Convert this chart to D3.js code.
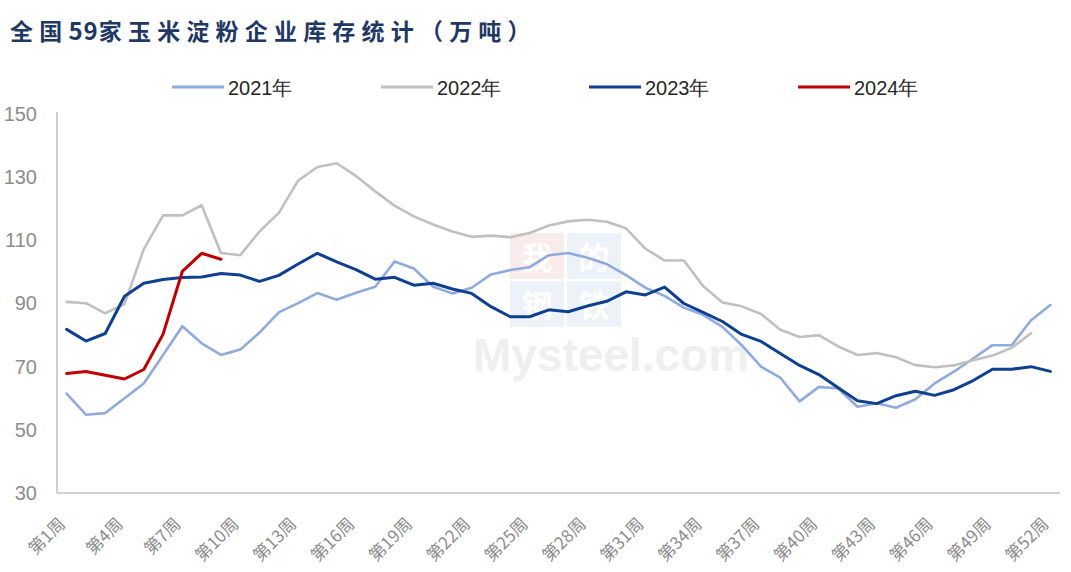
<!DOCTYPE html>
<html><head><meta charset="utf-8">
<script src="https://cdn.jsdelivr.net/npm/d3@7"></script>
<style>
html,body{margin:0;padding:0;background:#fff;}
svg{display:block;}
</style></head>
<body>
<svg id="chart" width="1071" height="572"></svg>
<script>
const weeks = d3.range(1, 53).map(i => "第" + i + "周");
const yTicks = [30, 50, 70, 90, 110, 130, 150];
const seriesNames = ["2021年", "2022年", "2023年", "2024年"];
const v2021 = [61.5,54.8,55.3,60,64.7,73.7,82.8,77.4,73.7,75.4,80.8,87.2,90.1,93.3,91.2,93.4,95.3,103.3,101.1,95.3,93.2,95,99.2,100.6,101.5,105.3,106,104.5,102.5,99,95,92.4,88.7,86.4,82.6,76.8,70,66.5,59,63.6,63.1,57.3,58.4,57,59.7,64.7,68.4,72.6,76.8,76.8,84.7,89.5];
const v2022 = [90.5,90.1,86.9,89.8,107.2,117.9,117.9,121.1,106,105.3,112.8,118.7,128.9,133.2,134.4,130.4,125.5,121,117.6,115,112.8,111.1,111.5,111,112.3,114.7,116,116.5,115.9,113.8,107.4,103.6,103.6,95.5,90.3,89.1,86.7,81.7,79.4,80,76.4,73.7,74.3,73,70.5,69.8,70.4,72,73.5,76,80.6];
const v2023 = [81.8,78.1,80.5,92.3,96.4,97.6,98.2,98.4,99.5,99,97,98.9,102.5,105.9,103.2,100.7,97.7,98.3,95.8,96.4,94.6,93.2,89,85.8,85.8,88,87.4,89.2,90.7,93.7,92.7,95.2,90,87.2,84.3,80.2,78,74.2,70.4,67.5,63.3,59.2,58.3,60.8,62.2,60.9,62.7,65.6,69.2,69.2,70,68.5];
const v2024 = [67.8,68.5,67.3,66.1,69.1,80.3,100.2,105.9,104];
const colors = ["#8FAADC", "#C0C0C0", "#0F3F8F", "#C00000"];
const widths = [2.6, 2.6, 3, 3];

const svg = d3.select("#chart");
const L = 57, R = 1060, T = 114, B = 493;
const x = d3.scalePoint().domain(weeks).range([L, R]).padding(0.5);
const y = d3.scaleLinear().domain([30, 150]).range([B, T]);

// title
const title = svg.append("text").attr("x", 10).attr("y", 40)
  .attr("font-family", "'Noto Sans CJK SC', sans-serif").attr("font-weight", "bold")
  .attr("font-size", 23).attr("fill", "#1F3864");
title.append("tspan").attr("letter-spacing", 6.2).text("全国");
title.append("tspan").attr("letter-spacing", 1).attr("font-size", 24).text("59");
title.append("tspan").attr("letter-spacing", 6.2).text("家玉米淀粉企业库存统计（万吨）");

// watermark
const wm = svg.append("g").attr("opacity", 0.5);
const wmCells = [["我", 510, 233, "#f7d9d9"], ["的", 567, 233, "#dde6f3"], ["钢", 510, 281, "#dde6f3"], ["铁", 567, 281, "#dde6f3"]];
wmCells.forEach(c => {
  wm.append("rect").attr("x", c[1]).attr("y", c[2]).attr("width", 54).attr("height", 46).attr("fill", c[3]);
  wm.append("text").attr("x", c[1] + 27).attr("y", c[2] + 36).attr("text-anchor", "middle")
    .attr("font-family", "'Noto Sans CJK SC', sans-serif").attr("font-weight", "bold")
    .attr("font-size", 31).attr("fill", "#ffffff").text(c[0]);
});
svg.append("text").attr("x", 473).attr("y", 371)
  .attr("font-family", "'Liberation Sans', Arial, sans-serif").attr("font-weight", "bold")
  .attr("font-size", 46).attr("fill", "#efefef").text("Mysteel.com");

// axes lines
svg.append("line").attr("x1", L).attr("x2", L).attr("y1", T - 2).attr("y2", B)
  .attr("stroke", "#BFBFBF").attr("stroke-width", 1.5);
svg.append("line").attr("x1", L).attr("x2", R).attr("y1", B).attr("y2", B)
  .attr("stroke", "#BFBFBF").attr("stroke-width", 1.5);

// y axis
const yAxis = svg.append("g").attr("transform", `translate(${L},0)`)
  .call(d3.axisLeft(y).tickValues(yTicks).tickSize(0).tickPadding(20));
yAxis.select(".domain").remove();
yAxis.selectAll("text").attr("font-family", "'Liberation Sans', Arial, sans-serif")
  .attr("font-size", 20).attr("fill", "#8c8c8c");

// x axis
const xTickVals = weeks.filter((w, i) => i % 3 === 0);
const xAxis = svg.append("g").attr("transform", `translate(0,${B})`)
  .call(d3.axisBottom(x).tickValues(xTickVals).tickSize(0));
xAxis.select(".domain").remove();
xAxis.selectAll("text")
  .attr("font-family", "'Noto Sans CJK SC', sans-serif").attr("font-size", 17)
  .attr("fill", "#8c8c8c")
  .attr("text-anchor", "end")
  .attr("dy", "0.75em").attr("y", 0)
  .attr("transform", "translate(-10,23) rotate(-45)");

// lines
const data = [v2021, v2022, v2023, v2024];
const line = d3.line().x((d, i) => x(weeks[i])).y(d => y(d));
const plot = svg.append("g");
data.forEach((vals, k) => {
  plot.append("path").datum(vals).attr("d", line)
    .attr("fill", "none").attr("stroke", colors[k]).attr("stroke-width", widths[k])
    .attr("stroke-linejoin", "round").attr("stroke-linecap", "round");
});

// legend
const legX = [172, 381, 589, 798];
const leg = svg.append("g");
seriesNames.forEach((n, k) => {
  leg.append("line").attr("x1", legX[k]).attr("x2", legX[k] + 52).attr("y1", 87).attr("y2", 87)
    .attr("stroke", colors[k]).attr("stroke-width", 3);
  leg.append("text").attr("x", legX[k] + 56).attr("y", 95)
    .attr("font-family", "'Liberation Sans', Arial, sans-serif").attr("font-size", 20)
    .attr("fill", "#262626").text(n);
});
</script>
</body></html>
